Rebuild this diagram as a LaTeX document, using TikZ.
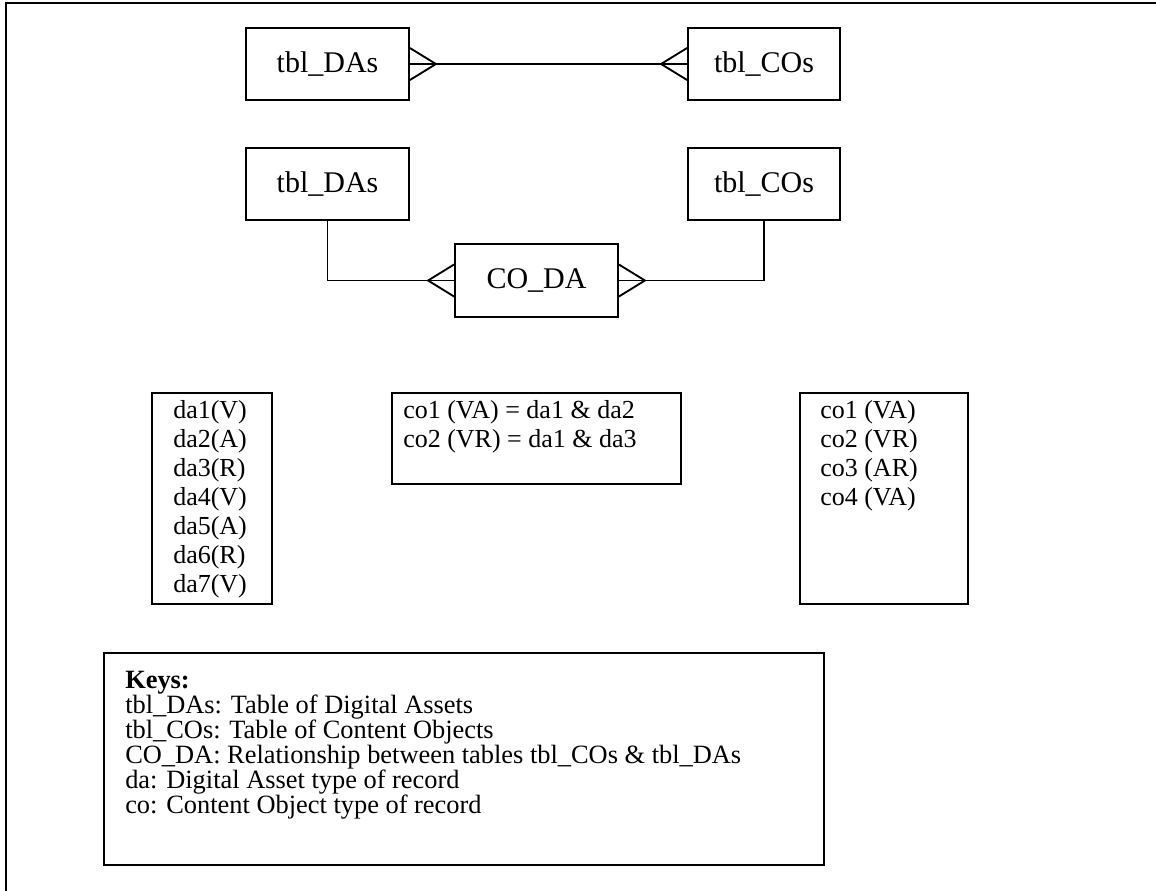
\documentclass[tikz,border=0pt]{standalone}
\usepackage{fontspec}
\setmainfont{Liberation Serif}
\usetikzlibrary{calc}
\tikzset{
  ent/.style={draw, line width=1.4pt, inner sep=0pt, minimum width=#1},
  big/.style={font=\fontsize{22.5}{27}\selectfont},
  small/.style={font=\fontsize{19.5}{22.5}\selectfont, anchor=base west, inner sep=0pt},
  keytext/.style={font=\fontsize{19.8}{18.75}\selectfont, anchor=base west, inner sep=0pt},
  conn/.style={line width=1.4pt},
}
\newcommand\crowfoot[2]{\draw[conn, line join=miter] ($(#1)+(0,-16)$) -- ($(#1)+(#2*26,0)$) -- ($(#1)+(0,16)$);}
\begin{document}
\begin{tikzpicture}[x=0.75pt, y=-0.75pt]
\useasboundingbox (0,0) rectangle (1156,890);
% outer frame
\draw[line width=1.5pt] (6,892) -- (6,3) -- (1160,3);

% top relationship
\node[ent=163*0.75pt, minimum height=72*0.75pt, big] (daA) at (327.5,64) {tbl\_DAs};
\node[ent=152*0.75pt, minimum height=72*0.75pt, big] (coA) at (764,64) {tbl\_COs};
\draw[conn] (daA.east) -- (coA.west);
\crowfoot{daA.east}{1}
\crowfoot{coA.west}{-1}

% middle relationship
\node[ent=163*0.75pt, minimum height=72*0.75pt, big] (daB) at (327.5,184) {tbl\_DAs};
\node[ent=152*0.75pt, minimum height=72*0.75pt, big] (coB) at (764,184) {tbl\_COs};
\node[ent=163*0.75pt, minimum height=73*0.75pt, big] (coda) at (536.5,280.5) {CO\_DA};
\draw[conn] (daB.south) |- (coda.west);
\draw[conn] (coB.south) |- (coda.east);
\crowfoot{coda.west}{-1}
\crowfoot{coda.east}{1}

% record boxes
\node[ent=120*0.75pt, minimum height=211*0.75pt] (dabox) at (212,498.5) {};
\node[ent=289*0.75pt, minimum height=91*0.75pt] (midbox) at (536.5,438.5) {};
\node[ent=168*0.75pt, minimum height=211*0.75pt] (cobox) at (884,498.5) {};

\foreach \t [count=\i] in {da1(V),da2(A),da3(R),da4(V),da5(A),da6(R),da7(V)}
  \node[small] (da\i) at (173,{389+29*\i}) {\t};

\node[small] (m1) at (403,418) {co1 (VA) = da1 \& da2};
\node[small] (m2) at (403,447) {co2 (VR) = da1 \& da3};

\foreach \t [count=\i] in {co1 (VA),co2 (VR),co3 (AR),co4 (VA)}
  \node[small] (co\i) at (820,{389+29*\i}) {\t};

% keys
\node[ent=720*0.75pt, minimum height=212*0.75pt] (keys) at (464,759) {};
\node[keytext] (k0) at (125,688) {\bfseries Keys:};
\node[keytext] (k1) at (125,713) {tbl\_DAs: Table of Digital Assets};
\node[keytext] (k2) at (125,738) {tbl\_COs: Table of Content Objects};
\node[keytext] (k3) at (125,763) {CO\_DA: Relationship between tables tbl\_COs \& tbl\_DAs};
\node[keytext] (k4) at (125,788) {da: Digital Asset type of record};
\node[keytext] (k5) at (125,813) {co: Content Object type of record};
\end{tikzpicture}
\end{document}
